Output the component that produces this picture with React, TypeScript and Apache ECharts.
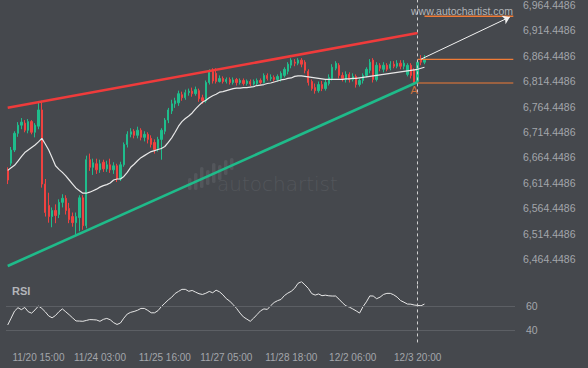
import React, { useEffect, useRef } from 'react';
import * as echarts from 'echarts';

// x-axis tick labels and the bar slots they sit on
const tickLabels = ['11/20 15:00', '11/24 03:00', '11/25 16:00', '11/27 05:00', '11/28 18:00', '12/2 06:00', '12/3 20:00'];
const tickIndices = [9, 27, 46, 64, 83, 101, 120];
const slotCount = 149; // bars + empty projection area on the right

// candles (2-hour bars)
const opens = [6640, 6653, 6679, 6712, 6728, 6732, 6718, 6735, 6714, 6726, 6758, 6612, 6570, 6548, 6560, 6552, 6576, 6584, 6564, 6548,
  6536, 6546, 6585, 6530, 6660, 6645, 6652, 6640, 6655, 6642, 6650, 6640, 6648, 6622, 6650, 6690, 6710, 6716, 6708, 6718,
  6704, 6710, 6702, 6694, 6682, 6700, 6716, 6738, 6756, 6770, 6772, 6788, 6782, 6792, 6795, 6790, 6796, 6782, 6776, 6812,
  6834, 6830, 6814, 6820, 6814, 6818, 6812, 6818, 6812, 6816, 6810, 6814, 6809, 6810, 6816, 6812, 6826, 6820, 6822, 6818,
  6820, 6826, 6834, 6846, 6852, 6850, 6856, 6852, 6834, 6814, 6802, 6796, 6808, 6800, 6810, 6820, 6840, 6846, 6826, 6818,
  6828, 6818, 6824, 6808, 6816, 6826, 6836, 6856, 6818, 6846, 6838, 6846, 6840, 6848, 6844, 6850, 6844, 6828, 6846, 6836,
  6814, 6858, 6852];
const closes = [6620, 6679, 6712, 6728, 6734, 6718, 6735, 6714, 6728, 6758, 6612, 6556, 6548, 6560, 6550, 6576, 6584, 6560, 6542, 6536,
  6548, 6585, 6530, 6660, 6645, 6654, 6640, 6652, 6642, 6650, 6640, 6648, 6622, 6650, 6690, 6710, 6715, 6708, 6718, 6704,
  6710, 6700, 6690, 6680, 6700, 6718, 6738, 6758, 6770, 6776, 6790, 6782, 6792, 6795, 6790, 6798, 6780, 6776, 6812, 6832,
  6815, 6814, 6820, 6814, 6818, 6812, 6817, 6812, 6816, 6810, 6815, 6809, 6814, 6816, 6812, 6826, 6820, 6822, 6818, 6824,
  6830, 6838, 6848, 6856, 6850, 6856, 6848, 6836, 6812, 6800, 6796, 6808, 6800, 6812, 6822, 6842, 6850, 6826, 6820, 6828,
  6818, 6824, 6808, 6816, 6826, 6838, 6852, 6818, 6846, 6840, 6846, 6838, 6848, 6844, 6850, 6844, 6850, 6846, 6826, 6812,
  6852, 6852, 6858];
const lows = [6612, 6648, 6675, 6705, 6720, 6714, 6712, 6710, 6704, 6720, 6605, 6548, 6536, 6527, 6535, 6545, 6566, 6552, 6535, 6528,
  6512, 6519, 6522, 6525, 6638, 6630, 6632, 6634, 6636, 6636, 6634, 6632, 6616, 6618, 6646, 6684, 6704, 6702, 6702, 6698,
  6696, 6692, 6684, 6672, 6676, 6660, 6710, 6732, 6750, 6762, 6766, 6776, 6778, 6786, 6784, 6786, 6774, 6770, 6772, 6808,
  6810, 6810, 6812, 6810, 6810, 6808, 6808, 6806, 6808, 6806, 6806, 6805, 6806, 6806, 6808, 6810, 6816, 6815, 6814, 6814,
  6814, 6822, 6828, 6840, 6844, 6846, 6842, 6830, 6806, 6796, 6790, 6792, 6795, 6796, 6806, 6816, 6836, 6820, 6814, 6812,
  6812, 6814, 6802, 6804, 6810, 6822, 6830, 6812, 6814, 6834, 6832, 6834, 6836, 6840, 6840, 6838, 6838, 6824, 6820, 6810,
  6812, 6846, 6848];
const highs = [6645, 6685, 6716, 6734, 6742, 6738, 6740, 6738, 6732, 6774, 6776, 6622, 6595, 6566, 6572, 6582, 6592, 6590, 6575, 6556,
  6556, 6590, 6590, 6668, 6672, 6662, 6662, 6660, 6660, 6658, 6662, 6655, 6652, 6656, 6694, 6716, 6722, 6720, 6725, 6722,
  6716, 6714, 6708, 6700, 6705, 6722, 6742, 6762, 6778, 6782, 6796, 6794, 6798, 6800, 6802, 6804, 6800, 6788, 6816, 6838,
  6840, 6840, 6826, 6824, 6822, 6822, 6822, 6821, 6820, 6820, 6818, 6818, 6818, 6820, 6820, 6830, 6830, 6828, 6826, 6828,
  6834, 6842, 6852, 6860, 6858, 6860, 6860, 6856, 6838, 6818, 6810, 6814, 6815, 6818, 6828, 6848, 6854, 6850, 6832, 6834,
  6832, 6830, 6828, 6820, 6830, 6842, 6858, 6860, 6852, 6850, 6852, 6850, 6854, 6854, 6856, 6856, 6856, 6850, 6850, 6840,
  6856, 6866, 6866];

// white moving average
const maValues = [6639, 6644, 6649, 6657, 6666, 6674, 6679, 6684, 6689, 6695, 6702, 6691, 6679, 6664, 6648, 6641, 6635, 6628, 6620, 6612,
  6604, 6599, 6594, 6594, 6596, 6599, 6602, 6606, 6609, 6611, 6614, 6620, 6622, 6622, 6627, 6635, 6645, 6651, 6658, 6664,
  6668, 6672, 6676, 6678, 6680, 6682, 6686, 6694, 6703, 6714, 6726, 6735, 6741, 6746, 6752, 6760, 6767, 6773, 6777, 6782,
  6786, 6789, 6793, 6794, 6796, 6798, 6800, 6801, 6801, 6802, 6802, 6803, 6804, 6806, 6807, 6808, 6810, 6811, 6813, 6815,
  6817, 6818, 6820, 6821, 6824, 6825, 6825, 6824, 6823, 6822, 6821, 6820, 6819, 6818, 6818, 6818, 6818, 6818, 6818, 6819,
  6819, 6820, 6820, 6821, 6822, 6823, 6824, 6825, 6826, 6827, 6828, 6829, 6830, 6831, 6832, 6833, 6834, 6835, 6836, 6837,
  6838, 6840, 6842];

// RSI
const rsiValues = [44.4, 50, 55.8, 58.6, 57, 58.8, 55.3, 54.1, 56.8, 60, 58, 55.2, 51.8, 50.3, 52.2, 55.3, 57.6, 55.2, 52.8, 50.2,
  47.7, 47.6, 47.4, 48.1, 48.8, 48.7, 48.5, 47.4, 49, 49.8, 48.7, 46.3, 44.8, 46, 50, 53.4, 54.8, 55.5, 56.5, 58,
  58, 56.4, 54.4, 54.4, 56.2, 59.6, 62.3, 65, 67.2, 70.3, 72, 73.7, 73.7, 72.1, 72.8, 71.4, 70.1, 69.5, 70.5, 72,
  70.9, 73, 71.7, 69.2, 66, 64, 61.1, 58, 54.2, 51, 49.2, 47.4, 50, 53, 56, 57.6, 57.2, 60.3, 62.9, 64.4,
  65.4, 68.6, 70.6, 72.1, 74.6, 78.7, 80, 77.4, 74.5, 70.2, 69, 69.9, 68.5, 68.9, 68.4, 68.2, 68.2, 65.6, 62.6, 60.1,
  59.1, 57.6, 56, 54.2, 59.4, 63.4, 68.3, 68.2, 66, 67.3, 69.5, 70.4, 70.4, 69.2, 67.3, 64.5, 63.1, 61.6, 61.5, 60.8,
  60.5, 60.2, 61.6];
const rsiLevels = [40, 60];

// pattern lines: [slot index, price]
const upperTrend = [[0, 6762.3], [120, 6909.3]];
const lowerTrend = [[0, 6450.7], [120, 6812.9]];
const breakoutSlot = 120;
const breakoutLevel = [[120, 6857.5], [148, 6857.5]];
const patternLevel = [[120, 6811], [148, 6811]];
const targetLevel = [[122, 6942.5], [148, 6942.5]];
const projection = [[121, 6858], [147, 6941]];
const pointA = [119, 6811];

// price axis ticks
const priceMin = 6414.4486;
const priceMax = 6974.4486;
const priceStep = 50;

const BG = '#45484d';
const LABEL = '#a3a6ab';
const FONT = '"Liberation Sans", Arial, sans-serif';
const UP = '#1fbd8c';
const DOWN = '#ef4240';
const ORANGE = '#f07b37';
const MARK = '#53565b';

export default function App() {
  const ref = useRef<HTMLDivElement>(null);
  useEffect(() => {
    if (!ref.current) return;
    const chart = echarts.init(ref.current, null, { renderer: 'svg' });
    const categories = Array.from({ length: slotCount }, (_, i) => {
      const k = tickIndices.indexOf(i);
      return k >= 0 ? tickLabels[k] : 's' + i;
    });
    const candles = opens.map((o, i) => [o, closes[i], lows[i], highs[i]]);
    const fmtPrice = (v: number) => {
      const exact = priceMin + Math.round((v - priceMin) / priceStep) * priceStep;
      return exact.toLocaleString('en-US', { minimumFractionDigits: 4, maximumFractionDigits: 4 });
    };

    // watermark logo bars: [x, top, bottom]
    const logoBars = [[188, 178, 190], [194, 173, 190], [200, 167, 188], [206, 170, 185], [212, 163, 183], [218, 165, 180], [224, 160, 175], [230, 158, 170]];
    const option: any = {
      animation: false,
      backgroundColor: BG,
      textStyle: { fontFamily: FONT },
      grid: [
        { left: 6, right: 73, top: 0, height: 284.4, outerBoundsMode: 'none', containLabel: false },
        { left: 6, right: 73, top: 281.7, height: 60.75, outerBoundsMode: 'none', containLabel: false },
      ],
      xAxis: [
        {
          type: 'category', gridIndex: 0, data: categories, boundaryGap: true,
          axisLine: { show: false }, axisTick: { show: false }, axisLabel: { show: false }, splitLine: { show: false },
        },
        {
          type: 'category', gridIndex: 1, data: categories, boundaryGap: true,
          axisLine: { show: false }, axisTick: { show: false }, splitLine: { show: false },
          axisLabel: {
            show: true, color: LABEL, fontSize: 10, fontFamily: FONT, margin: 10, hideOverlap: false,
            interval: (index: number) => tickIndices.indexOf(index) >= 0,
            formatter: (v: string) => v,
          },
        },
      ],
      yAxis: [
        {
          type: 'value', gridIndex: 0, position: 'right', min: priceMin, max: priceMax, interval: priceStep,
          axisLine: { show: false }, axisTick: { show: false }, splitLine: { show: false },
          axisLabel: {
            color: LABEL, fontSize: 10.5, fontFamily: FONT, margin: 8,
            showMinLabel: false, showMaxLabel: false, formatter: fmtPrice,
          },
        },
        {
          type: 'value', gridIndex: 1, position: 'right', min: 30, max: 80, interval: 10,
          axisLine: { show: false }, axisTick: { show: false }, splitLine: { show: false },
          axisLabel: {
            color: LABEL, fontSize: 10.5, fontFamily: FONT, margin: 11,
            formatter: (v: number) => (rsiLevels.indexOf(v) >= 0 ? String(v) : ''),
          },
        },
      ],
      graphic: [
        {
          type: 'group', silent: true, z: 0,
          children: [
            ...logoBars.map(([x, t, b]) => ({
              type: 'rect', shape: { x, y: t, width: 3.5, height: b - t, r: 1.5 },
              style: { fill: MARK },
            })),
            {
              type: 'text', x: 217, y: 174,
              style: { text: 'autochartist', fill: MARK, fontSize: 20, fontWeight: 200, fontFamily: '"DejaVu Sans", sans-serif' },
            },
          ],
        },
        {
          type: 'text', left: 411, top: 5, silent: true,
          style: { text: 'www.autochartist.com', fill: '#b3b5b9', fontSize: 10.5, fontFamily: FONT },
        },
        {
          type: 'text', left: 12, top: 285, silent: true,
          style: { text: 'RSI', fill: '#b3b5b9', fontSize: 11, fontWeight: 'bold', fontFamily: FONT },
        },
      ],
      series: [
        {
          type: 'candlestick', xAxisIndex: 0, yAxisIndex: 0, data: candles, barWidth: 1.8,
          itemStyle: { color: UP, color0: DOWN, borderColor: UP, borderColor0: DOWN, borderWidth: 1 },
          markLine: {
            silent: true, symbol: 'none', label: { show: false },
            lineStyle: { color: '#d0d0d0', type: [3, 3], width: 1 },
            data: [{ xAxis: breakoutSlot }],
          },
        },
        {
          type: 'line', xAxisIndex: 0, yAxisIndex: 0, data: maValues, symbol: 'none',
          lineStyle: { color: '#e8e8e8', width: 1.2 }, z: 3,
        },
        {
          type: 'line', xAxisIndex: 0, yAxisIndex: 0, data: upperTrend, symbol: 'none',
          lineStyle: { color: '#ef3b3b', width: 2.6 }, z: 4,
        },
        {
          type: 'line', xAxisIndex: 0, yAxisIndex: 0, data: lowerTrend, symbol: 'none',
          lineStyle: { color: '#1fbb8a', width: 2.6 }, z: 4,
        },
        {
          type: 'line', xAxisIndex: 0, yAxisIndex: 0, data: breakoutLevel, symbol: 'none',
          lineStyle: { color: ORANGE, width: 1.2 }, z: 4,
        },
        {
          type: 'line', xAxisIndex: 0, yAxisIndex: 0, data: patternLevel, symbol: 'none',
          lineStyle: { color: ORANGE, width: 1.2 }, z: 4,
        },
        {
          type: 'line', xAxisIndex: 0, yAxisIndex: 0, data: targetLevel, symbol: 'none',
          lineStyle: { color: ORANGE, width: 1.5 }, z: 4,
          markLine: {
            silent: true, symbol: ['none', 'arrow'], symbolSize: 7, label: { show: false },
            lineStyle: { color: '#f2f2f2', width: 1, type: 'solid' },
            data: [[{ coord: projection[0] }, { coord: projection[1] }]],
          },
        },
        {
          type: 'scatter', xAxisIndex: 0, yAxisIndex: 0, data: [pointA], symbolSize: 1,
          itemStyle: { color: 'transparent' }, z: 5,
          label: { show: true, formatter: 'A', position: 'bottom', distance: 1, color: ORANGE, fontSize: 11, fontFamily: FONT },
        },
        {
          type: 'line', xAxisIndex: 1, yAxisIndex: 1, data: rsiValues, symbol: 'none',
          lineStyle: { color: '#e6e6e6', width: 1 },
          markLine: {
            silent: true, symbol: 'none', label: { show: false },
            lineStyle: { color: '#5c5f64', width: 1, type: 'solid' },
            data: [
              ...rsiLevels.map((v) => ({ yAxis: v })),
              { xAxis: breakoutSlot, lineStyle: { color: '#d0d0d0', type: [3, 3], width: 1 } },
            ],
          },
        },
      ],
    };
    chart.setOption(option);
    return () => chart.dispose();
  }, []);
  return <div ref={ref} style={{ position: 'fixed', left: 0, top: 0, width: 588, height: 368 }} />;
}
